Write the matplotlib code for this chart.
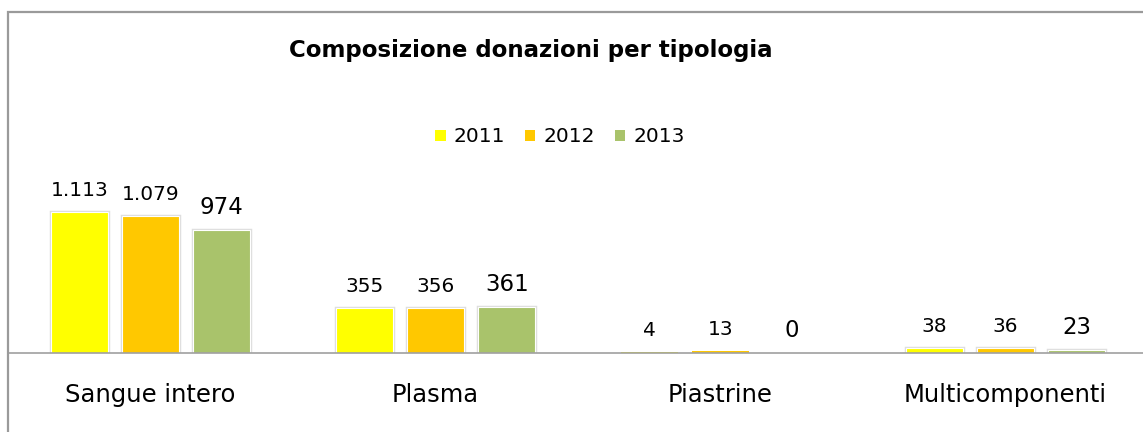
import matplotlib.pyplot as plt
import matplotlib.patheffects as pe
from matplotlib.patches import Rectangle, Patch
import numpy as np

categories = ['Sangue intero', 'Plasma', 'Piastrine', 'Multicomponenti']
years = ['2011', '2012', '2013']
v2011 = [1113, 355, 4, 38]
v2012 = [1079, 356, 13, 36]
v2013 = [974, 361, 0, 23]
labels2011 = ['1.113', '355', '4', '38']
labels2012 = ['1.079', '356', '13', '36']
labels2013 = ['974', '361', '0', '23']

colors = ['#ffff00', '#ffc800', '#a9c36b']
W, H = 1143, 432

fig = plt.figure(figsize=(W / 100, H / 100), dpi=100)
# axes: left edge at the border, baseline at y=352.5 px, top at y=12 px
ax = fig.add_axes([8 / W, (H - 352.5) / H, 1140 / W, (352.5 - 12) / H])
ax.set_xlim(-0.5, 3.5)
ax.set_ylim(0, 2700)

x = np.arange(len(categories))
shadow = [pe.Stroke(linewidth=2.5, foreground='#dedede'), pe.Normal()]
series = [(v2011, labels2011, 14.5), (v2012, labels2012, 14.5), (v2013, labels2013, 16.5)]
for i, (vals, labs, fs) in enumerate(series):
    off = (i - 1) * 0.25
    bars = ax.bar(x + off, vals, width=0.2, color=colors[i], edgecolor='white',
                  linewidth=0.8, zorder=2)
    for b, v in zip(bars, vals):
        if v > 20:
            b.set_path_effects(shadow)
        else:
            b.set_edgecolor('none')
    for xi, v, lab in zip(x + off, vals, labs):
        ax.annotate(lab, (xi, v), xytext=(0, 11.5), textcoords='offset points',
                    ha='center', va='baseline', fontsize=fs, color='black')

for s in ['top', 'right', 'left']:
    ax.spines[s].set_visible(False)
ax.spines['bottom'].set_color('#a0a0a0')
ax.spines['bottom'].set_linewidth(1.2)
ax.spines['bottom'].set_zorder(3)
ax.set_xticks([])
ax.set_yticks([])
ax.patch.set_alpha(0)

for xi, c in zip(x, categories):
    ax.text(xi, -42.5 / 340.5, c, transform=ax.get_xaxis_transform(),
            ha='center', va='center', fontsize=17.5)

fig.text(531 / W, 1 - 50 / H, 'Composizione donazioni per tipologia',
         ha='center', va='center', fontsize=16.5, fontweight='bold')

handles = [Patch(facecolor=c, edgecolor='none') for c in colors]
fig.legend(handles, years, loc='center', bbox_to_anchor=(560 / W, 1 - 137 / H),
           ncol=3, frameon=False, fontsize=14.5, handlelength=0.5, handleheight=0.5,
           handletextpad=0.4, columnspacing=1.0)

# grey frame of the chart area
fig.patches.append(Rectangle((8 / W, -0.1), 1.2, 1.1 - 11.5 / H, transform=fig.transFigure,
                             fill=False, edgecolor='#9a9a9a', linewidth=1.6))

fig.savefig('out.png', dpi=100)
